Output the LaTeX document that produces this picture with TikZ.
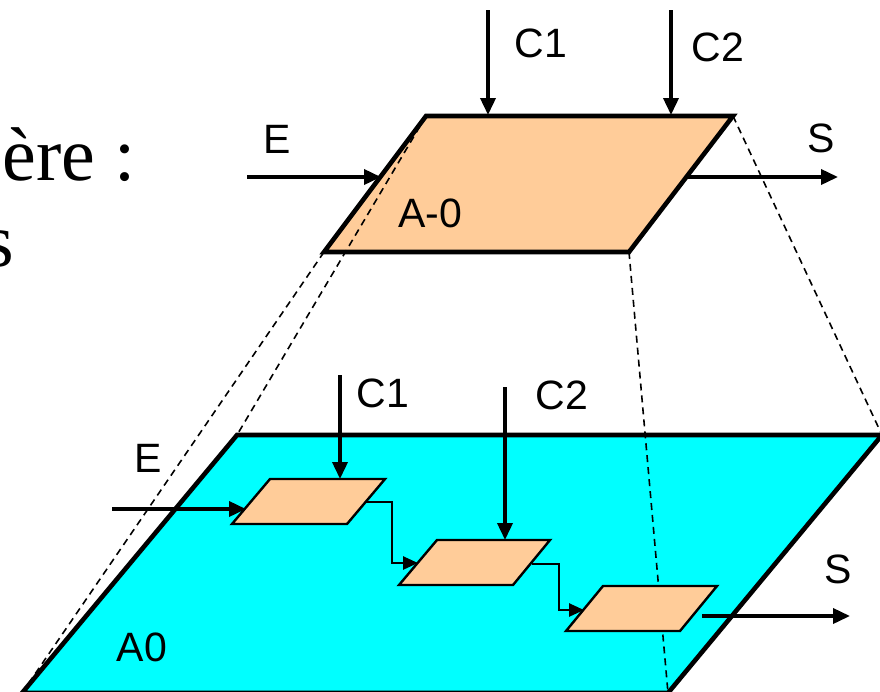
\documentclass[tikz,border=0pt]{standalone}
\usepackage{fontspec}
\setmainfont{Liberation Serif}
\setsansfont{Liberation Sans}
\usetikzlibrary{arrows.meta}
\definecolor{peach}{HTML}{FFCC99}
\definecolor{aqua}{HTML}{00FFFF}
\begin{document}
\begin{tikzpicture}[x=1pt,y=-1pt,
  plane/.style={draw=black, line width=4.6pt},
  pbox/.style={fill=peach, draw=black, line width=2.4pt},
  arr/.style={draw=black, line width=3.6pt, -{Triangle[length=17pt,width=15pt]}},
  sarr/.style={draw=black, line width=2.6pt, -{Triangle[length=15pt,width=13pt]}},
  proj/.style={draw=black, line width=1.6pt, dash pattern=on 7pt off 5pt},
  lbl/.style={font=\sffamily\fontsize{41}{41}\selectfont, inner sep=0pt},
  big/.style={font=\rmfamily\fontsize{76}{76}\selectfont, inner sep=0pt}
]
\useasboundingbox (0,0) rectangle (880,691);

% corners of the top activity (A-0)
\coordinate (tTL) at (426,116);
\coordinate (tTR) at (733,116);
\coordinate (tBR) at (629,252);
\coordinate (tBL) at (324,252);
% corners of the lower plane (A0)
\coordinate (lTL) at (237,435);
\coordinate (lTR) at (882,435);
\coordinate (lBR) at (668,693);
\coordinate (lBL) at (22,693);

% left partial text
\node[big, anchor=base east] (t1) at (136,180) {ère :};
\node[big, anchor=base east] (t2) at (14,266) {s};

% planes
\fill[aqua] (lTL) -- (lTR) -- (lBR) -- (lBL) -- cycle;
\draw[plane] (lTL) -- (lTR) -- (lBR) -- (lBL) -- cycle;
\fill[peach] (tTL) -- (tTR) -- (tBR) -- (tBL) -- cycle;
\draw[plane] (tTL) -- (tTR) -- (tBR) -- (tBL) -- cycle;

% projection lines
\draw[proj] (tTL) -- (lTL);
\draw[proj] (tBL) -- (lBL);
\draw[proj] (tTR) -- (lTR);
\draw[proj] (tBR) -- (lBR);

% small activity boxes
\draw[pbox] (270,479) coordinate (b1TL) -- (385,479) -- (347,524) -- (232,524) -- cycle;
\draw[pbox] (437,540) coordinate (b2TL) -- (550,540) -- (513,585) -- (399,585) -- cycle;
\draw[pbox] (603,586) coordinate (b3TL) -- (717,586) -- (680,631) -- (566,631) -- cycle;

% top arrows
\coordinate (c1s) at (488,10);  \coordinate (c1e) at (488,115);
\coordinate (c2s) at (671,10);  \coordinate (c2e) at (671,115);
\coordinate (es) at (247,177);  \coordinate (ee) at (381,177);
\coordinate (ss) at (687,177);  \coordinate (se) at (838,177);
\draw[arr] (c1s) -- (c1e);
\draw[arr] (c2s) -- (c2e);
\draw[arr] (es) -- (ee);
\draw[arr] (ss) -- (se);

% lower arrows
\coordinate (lc1s) at (340,375); \coordinate (lc1e) at (340,479);
\coordinate (lc2s) at (505,387); \coordinate (lc2e) at (505,540);
\coordinate (les) at (112,509);  \coordinate (lee) at (246,509);
\coordinate (lss) at (702,616);  \coordinate (lse) at (850,616);
\draw[arr] (lc1s) -- (lc1e);
\draw[arr] (lc2s) -- (lc2e);
\draw[arr] (les) -- (lee);
\draw[arr] (lss) -- (lse);

% internal connectors
\coordinate (k1s) at (366,502); \coordinate (k1e) at (418,563);
\coordinate (k2s) at (532,564); \coordinate (k2e) at (584,610);
\draw[sarr] (k1s) -- (392,502) -- (392,563) -- (k1e);
\draw[sarr] (k2s) -- (559,564) -- (559,610) -- (k2e);

% labels
\node[lbl] (lC1) at (541,43) {C1};
\node[lbl] (lC2) at (718,47) {C2};
\node[lbl] (lE) at (277,139) {E};
\node[lbl] (lS) at (821,138) {S};
\node[lbl] (lA) at (430,213) {A-0};
\node[lbl] (mC1) at (383,393) {C1};
\node[lbl] (mC2) at (562,395) {C2};
\node[lbl] (mE) at (148,458) {E};
\node[lbl] (mS) at (838,569) {S};
\node[lbl] (mA) at (142,647) {A0};
\end{tikzpicture}
\end{document}
